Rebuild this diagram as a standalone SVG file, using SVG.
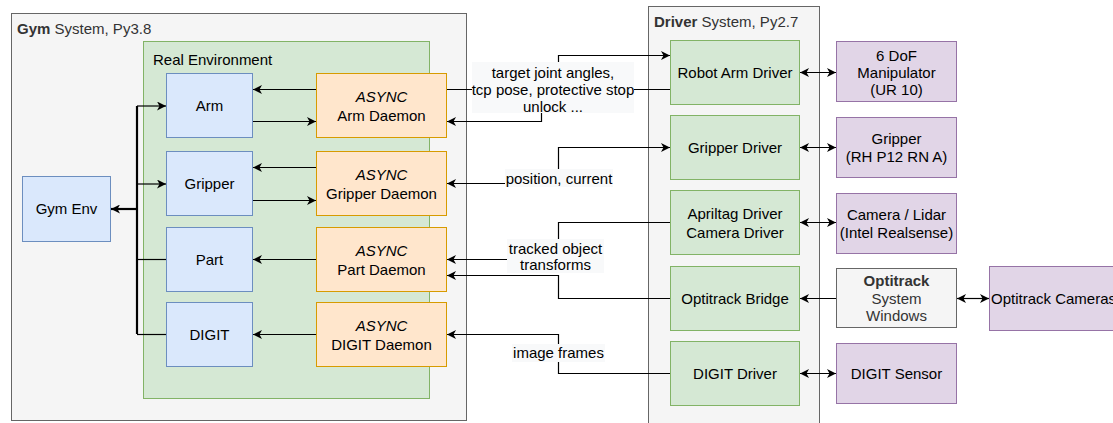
<svg xmlns="http://www.w3.org/2000/svg" width="1113" height="423" viewBox="0 0 1113 423">
  <style>
    text { font-family: "Liberation Sans", Arial, sans-serif; font-size: 15px; fill: #000; }
    .c { text-anchor: middle; }
    .it { font-style: italic; }
    .b { font-weight: bold; }
    .grey { fill: #f5f5f5; stroke: #666666; }
    .greyt { fill: #333333; }
    .env { fill: #d5e8d4; stroke: #82b366; }
    .blue { fill: #dae8fc; stroke: #6c8ebf; }
    .orange { fill: #ffe6cc; stroke: #d79b00; }
    .green { fill: #d5e8d4; stroke: #82b366; }
    .purple { fill: #e1d5e7; stroke: #9673a6; }
    .edge { fill: none; stroke: #000; stroke-width: 1.2; }
    .bold { stroke-width: 2.2; }
    .lblbg { fill: #f8f9fa; }
  </style>
  <defs>
    <marker id="arrow" markerUnits="userSpaceOnUse" markerWidth="10" markerHeight="9" refX="9" refY="4.5" orient="auto-start-reverse">
      <path d="M0,0 L9,4.5 L0,9 L2.5,4.5 Z" fill="#000"/>
    </marker>
  </defs>

  <!-- containers -->
  <g id="gym-system">
    <rect class="grey" x="11.5" y="13.5" width="455" height="407"/>
    <text x="17" y="34" class="greyt"><tspan class="b">Gym</tspan> System, Py3.8</text>
  </g>
  <g id="real-environment">
    <rect class="env" x="143.5" y="41.5" width="286" height="357"/>
    <text x="153" y="65">Real Environment</text>
  </g>
  <g id="driver-system">
    <rect class="grey" x="648.5" y="6.5" width="171" height="430"/>
    <text x="654" y="27" class="greyt"><tspan class="b">Driver</tspan> System, Py2.7</text>
  </g>

  <!-- gym side nodes -->
  <g id="gym-env">
    <rect class="blue" x="22.5" y="176.5" width="88" height="65"/>
    <text class="c" x="66.5" y="214">Gym Env</text>
  </g>
  <g id="arm">
    <rect class="blue" x="166.5" y="73.5" width="86" height="64"/>
    <text class="c" x="209.5" y="111">Arm</text>
  </g>
  <g id="gripper">
    <rect class="blue" x="166.5" y="151.5" width="86" height="64"/>
    <text class="c" x="209.5" y="189">Gripper</text>
  </g>
  <g id="part">
    <rect class="blue" x="166.5" y="227.5" width="86" height="64"/>
    <text class="c" x="209.5" y="265">Part</text>
  </g>
  <g id="digit">
    <rect class="blue" x="166.5" y="302.5" width="86" height="64"/>
    <text class="c" x="209.5" y="340">DIGIT</text>
  </g>

  <g id="arm-daemon">
    <rect class="orange" x="316.5" y="73.5" width="130" height="64"/>
    <text class="c it" x="381.5" y="102">ASYNC</text>
    <text class="c" x="381.5" y="120.5">Arm Daemon</text>
  </g>
  <g id="gripper-daemon">
    <rect class="orange" x="316.5" y="151.5" width="130" height="64"/>
    <text class="c it" x="381.5" y="180">ASYNC</text>
    <text class="c" x="381.5" y="198.5">Gripper Daemon</text>
  </g>
  <g id="part-daemon">
    <rect class="orange" x="316.5" y="227.5" width="130" height="64"/>
    <text class="c it" x="381.5" y="256">ASYNC</text>
    <text class="c" x="381.5" y="274.5">Part Daemon</text>
  </g>
  <g id="digit-daemon">
    <rect class="orange" x="316.5" y="302.5" width="130" height="64"/>
    <text class="c it" x="381.5" y="331">ASYNC</text>
    <text class="c" x="381.5" y="349.5">DIGIT Daemon</text>
  </g>

  <!-- driver side nodes -->
  <g id="robot-arm-driver">
    <rect class="green" x="670.5" y="40.5" width="129" height="64"/>
    <text class="c" x="735" y="78">Robot Arm Driver</text>
  </g>
  <g id="gripper-driver">
    <rect class="green" x="670.5" y="115.5" width="129" height="64"/>
    <text class="c" x="735" y="153">Gripper Driver</text>
  </g>
  <g id="apriltag-driver">
    <rect class="green" x="670.5" y="190.5" width="129" height="64"/>
    <text class="c" x="735" y="219">Apriltag Driver</text>
    <text class="c" x="735" y="237.5">Camera Driver</text>
  </g>
  <g id="optitrack-bridge">
    <rect class="green" x="670.5" y="266.5" width="129" height="64"/>
    <text class="c" x="735" y="304">Optitrack Bridge</text>
  </g>
  <g id="digit-driver">
    <rect class="green" x="670.5" y="341.5" width="129" height="64"/>
    <text class="c" x="735" y="379">DIGIT Driver</text>
  </g>

  <!-- hardware -->
  <g id="manipulator">
    <rect class="purple" x="836.5" y="41.5" width="120" height="60"/>
    <text class="c" x="896.5" y="60.5">6 DoF</text>
    <text class="c" x="896.5" y="77.5">Manipulator</text>
    <text class="c" x="896.5" y="94.5">(UR 10)</text>
  </g>
  <g id="gripper-hw">
    <rect class="purple" x="836.5" y="117.5" width="120" height="60"/>
    <text class="c" x="896.5" y="143.5">Gripper</text>
    <text class="c" x="896.5" y="162">(RH P12 RN A)</text>
  </g>
  <g id="camera-lidar">
    <rect class="purple" x="836.5" y="193.5" width="120" height="60"/>
    <text class="c" x="896.5" y="219.5">Camera / Lidar</text>
    <text class="c" x="896.5" y="238">(Intel Realsense)</text>
  </g>
  <g id="optitrack-system">
    <rect class="grey" x="836.5" y="268.5" width="120" height="59"/>
    <text class="c b greyt" x="896.5" y="285.5">Optitrack</text>
    <text class="c greyt" x="896.5" y="303.5">System</text>
    <text class="c greyt" x="896.5" y="321">Windows</text>
  </g>
  <g id="optitrack-cameras">
    <rect class="purple" x="989.5" y="266.5" width="140" height="64"/>
    <text x="991" y="304">Optitrack Cameras</text>
  </g>
  <g id="digit-sensor">
    <rect class="purple" x="836.5" y="343.5" width="120" height="60"/>
    <text class="c" x="896.5" y="379">DIGIT Sensor</text>
  </g>

  <!-- connectors -->
  <g id="connectors">
    <!-- gym env bus -->
    <path class="edge bold" d="M137,209 L111,209" marker-end="url(#arrow)"/>
    <path class="edge bold" d="M137,106 L137,334"/>
    <path class="edge" d="M137,106 L166,106" marker-end="url(#arrow)"/>
    <path class="edge" d="M137,184 L166,184" marker-end="url(#arrow)"/>
    <path class="edge" d="M166,259.5 L137,259.5"/>
    <path class="edge" d="M166,334.5 L137,334.5"/>

    <!-- daemons to environment objects -->
    <path class="edge" d="M316,89.5 L253,89.5" marker-end="url(#arrow)"/>
    <path class="edge" d="M253,121.5 L316,121.5" marker-end="url(#arrow)"/>
    <path class="edge" d="M316,167.5 L253,167.5" marker-end="url(#arrow)"/>
    <path class="edge" d="M253,200.5 L316,200.5" marker-end="url(#arrow)"/>
    <path class="edge" d="M316,259.5 L253,259.5" marker-end="url(#arrow)"/>
    <path class="edge" d="M316,334.5 L253,334.5" marker-end="url(#arrow)"/>

    <!-- daemons to drivers -->
    <path class="edge" d="M447,89.5 L558.5,89.5 L558.5,55.5 L670,55.5" marker-end="url(#arrow)"/>
    <path class="edge" d="M670,89.5 L541.5,89.5 L541.5,121.5 L447,121.5" marker-end="url(#arrow)"/>
    <path class="edge" d="M447,183.5 L558.5,183.5 L558.5,147.5 L670,147.5" marker-start="url(#arrow)" marker-end="url(#arrow)"/>
    <path class="edge" d="M670,222.5 L558.5,222.5 L558.5,259.5 L447,259.5" marker-end="url(#arrow)"/>
    <path class="edge" d="M670,298.5 L558.5,298.5 L558.5,275.5 L447,275.5" marker-end="url(#arrow)"/>
    <path class="edge" d="M670,373.5 L558.5,373.5 L558.5,334.5 L447,334.5" marker-end="url(#arrow)"/>

    <!-- drivers to hardware -->
    <path class="edge" d="M800,72.5 L836,72.5" marker-start="url(#arrow)" marker-end="url(#arrow)"/>
    <path class="edge" d="M800,147.5 L836,147.5" marker-start="url(#arrow)" marker-end="url(#arrow)"/>
    <path class="edge" d="M800,222.5 L836,222.5" marker-start="url(#arrow)" marker-end="url(#arrow)"/>
    <path class="edge" d="M836,298.5 L800,298.5" marker-end="url(#arrow)"/>
    <path class="edge" d="M957,298.5 L989,298.5" marker-start="url(#arrow)" marker-end="url(#arrow)"/>
    <path class="edge" d="M800,373.5 L836,373.5" marker-start="url(#arrow)" marker-end="url(#arrow)"/>

    <!-- edge labels -->
    <rect class="lblbg" x="472" y="62" width="162" height="51"/>
    <text class="c" x="553" y="77.5">target joint angles,</text>
    <text class="c" x="553" y="94.5">tcp pose, protective stop</text>
    <text class="c" x="553" y="111.5">unlock ...</text>

    <rect class="lblbg" x="505" y="169" width="108" height="18"/>
    <text class="c" x="559" y="183.5">position, current</text>

    <rect class="lblbg" x="507" y="239" width="97" height="34"/>
    <text class="c" x="555.5" y="253.5">tracked object</text>
    <text class="c" x="555.5" y="270">transforms</text>

    <rect class="lblbg" x="512" y="344" width="93" height="18"/>
    <text class="c" x="558.5" y="358">image frames</text>
  </g>
</svg>
